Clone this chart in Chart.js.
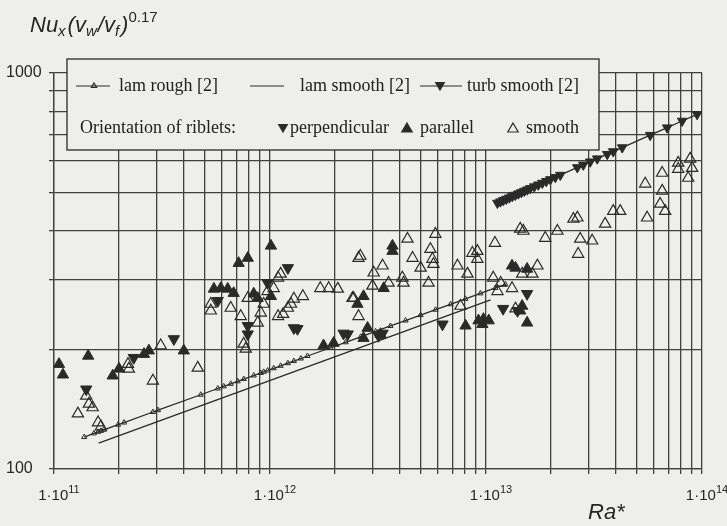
<!DOCTYPE html>
<html>
<head>
<meta charset="utf-8">
<script src="https://cdn.jsdelivr.net/npm/chart.js@4.4.0/dist/chart.umd.min.js"></script>
<style>
  html, body { margin: 0; padding: 0; background: #eeeeec; }
  #c { display: block; }
</style>
</head>
<body>
<canvas id="c" width="727" height="526"></canvas>
<script>
// axis ticks / labels
const decades = [1e11, 1e12, 1e13];
const mantissas = [1, 2, 3, 4, 5, 6, 7, 8, 9];
const xLabelValues = [1e11, 1e12, 1e13, 1e14];
const xLabelExp = ['11', '12', '13', '14'];
const yGrid = [100, 200, 300, 400, 500, 600, 700, 800, 900, 1000];
const yLabelValues = [100, 1000];

// lam rough [2] (line with small open triangles)
const lamRoughRa = [1.38e11, 1.53e11, 1.60e11, 1.65e11, 1.70e11, 1.98e11, 2.11e11, 2.87e11, 3.03e11, 4.78e11,
  5.73e11, 6.11e11, 6.58e11, 7.09e11, 7.56e11, 8.41e11, 9.06e11, 9.35e11, 9.76e11, 1.04e12,
  1.12e12, 1.21e12, 1.29e12, 1.39e12, 1.49e12, 1.91e12, 2.24e12, 2.63e12, 3.08e12, 3.61e12,
  4.24e12, 4.98e12, 5.84e12, 6.85e12, 8.03e12, 9.42e12, 1.105e13, 1.23e13];
const lamRoughNu = [120.4, 123.0, 124.1, 124.8, 125.6, 129.4, 131.0, 139.3, 140.8, 154.0,
  159.7, 161.7, 164.1, 166.5, 168.7, 172.2, 174.8, 175.9, 177.3, 179.6,
  182.2, 185.0, 187.3, 190.1, 192.9, 202.4, 208.9, 215.7, 222.6, 229.7,
  237.1, 244.7, 252.5, 260.6, 268.9, 277.6, 286.5, 292.5];

// lam smooth [2] (plain line)
const lamSmoothRa = [1.61e11, 1.05e13];
const lamSmoothNu = [116.3, 267.2];

// turb smooth [2] (line with filled down triangles)
const turbRa = [1.129e13, 1.166e13, 1.203e13, 1.242e13, 1.283e13, 1.324e13, 1.367e13, 1.412e13, 1.458e13, 1.505e13,
  1.554e13, 1.604e13, 1.674e13, 1.747e13, 1.823e13, 1.902e13, 1.985e13, 2.093e13, 2.208e13, 2.647e13,
  2.820e13, 3.038e13, 3.273e13, 3.641e13, 3.881e13, 4.272e13, 5.756e13, 6.898e13, 8.091e13, 9.493e13];
const turbNu = [469.6, 473.3, 476.9, 480.6, 484.4, 488.1, 491.9, 495.7, 499.5, 503.4,
  507.3, 511.3, 516.5, 522.0, 527.4, 532.8, 538.4, 545.3, 552.4, 577.4,
  586.2, 596.9, 607.8, 623.6, 633.4, 648.3, 696.6, 727.8, 756.6, 786.3];

// riblets: parallel (filled up triangles)
const parRa = [1.01e12, 7.89e11, 7.16e11, 5.50e11, 5.92e11, 6.37e11, 6.79e11, 8.41e11, 8.77e11, 1.01e12,
  2.54e12, 2.83e12, 1.055e11, 1.10e11, 1.44e11, 1.87e11, 2.0e11, 2.61e11, 2.75e11, 3.99e11,
  2.71e12, 1.77e12, 1.97e12, 3.69e12, 3.69e12, 3.36e12, 2.71e12, 1.32e13, 1.37e13, 1.55e13,
  1.47e13, 1.44e13, 1.55e13, 9.73e12, 9.23e12, 1.03e13, 8.04e12, 3.25e12, 9.62e12];
const parNu = [366, 341, 331, 285, 286, 285, 278, 277, 270, 273,
  261, 227, 184, 173, 193, 172, 179, 195, 199, 199,
  214, 205, 208, 366, 355, 286, 273, 326, 322, 320,
  258, 251, 234, 239, 237, 237, 230, 219, 232];

// riblets: perpendicular (filled down triangles)
const perpRa = [1.21e12, 9.75e11, 5.73e11, 7.89e11, 7.89e11, 1.29e12, 1.34e12, 1.41e11, 2.34e11, 3.59e11,
  2.19e12, 2.29e12, 1.55e13, 1.20e13, 1.40e13, 6.29e12, 3.18e12, 3.32e12];
const perpNu = [322, 295, 266, 230, 219, 227, 226, 159, 191, 213,
  220, 219, 277, 254, 251, 232, 217, 220];

// riblets: smooth (open triangles)
const smoothRa = [1.12e12, 1.09e12, 1.42e12, 1.29e12, 1.25e12, 1.21e12, 1.15e12, 1.09e12, 1.71e12, 1.87e12,
  2.06e12, 2.57e12, 2.41e12, 2.57e12, 5.32e11, 5.32e11, 6.58e11, 7.32e11, 9.35e11, 9.06e11,
  8.77e11, 7.89e11, 9.75e11, 1.04e12,
  1.41e11, 1.45e11, 1.51e11, 1.29e11, 1.60e11, 1.65e11, 2.20e11, 2.22e11, 2.87e11, 3.12e11,
  4.63e11, 7.55e11, 7.72e11,
  2.62e12, 3.32e12, 3.02e12, 2.98e12, 4.33e12, 4.57e12, 4.10e12, 4.15e12, 3.54e12, 4.98e12,
  5.53e12, 5.83e12, 5.65e12, 5.71e12, 5.42e12, 7.38e12, 8.21e12, 8.65e12, 9.12e12, 9.12e12,
  1.10e13, 1.44e13, 1.49e13, 1.88e13, 2.14e13, 2.54e13, 2.65e13, 2.73e13, 3.10e13, 2.67e13,
  3.56e13, 3.88e13, 4.18e13, 5.57e13, 6.40e13, 6.75e13, 5.46e13, 6.54e13, 6.54e13, 7.76e13,
  7.76e13, 8.81e13, 9.00e13, 8.63e13, 1.73e13, 1.64e13, 1.47e13, 1.17e13, 1.32e13, 1.08e13,
  1.13e13, 2.44e12, 7.62e12, 1.37e13];
const smoothNu = [311, 304, 273, 269, 261, 255, 246, 243, 286, 286,
  285, 341, 270, 243, 261, 251, 255, 243, 261, 248,
  234, 270, 281, 286,
  153, 146, 143, 138, 131, 128, 184, 179, 167, 205,
  180, 207, 201,
  345, 326, 313, 290, 381, 341, 304, 295, 295, 322,
  359, 392, 339, 329, 295, 326, 311, 351, 355, 339,
  372, 404, 399, 383, 399, 428, 431, 381, 377, 349,
  416, 448, 448, 431, 467, 448, 525, 504, 559, 593,
  572, 607, 575, 543, 326, 311, 311, 295, 286, 304,
  281, 270, 258, 254];

const ink = '#2a2a2a';
const gridInk = '#404040';
const paper = '#eeeeec';

function pts(xs, ys) { return xs.map((x, i) => ({x: x, y: ys[i]})); }

const xGrid = [];
decades.forEach(d => mantissas.forEach(m => xGrid.push(m * d)));
xGrid.push(1e14);

function tri(ctx, x, y, r, down, filled) {
  const s = down ? -1 : 1;
  ctx.beginPath();
  ctx.moveTo(x, y - s * r);
  ctx.lineTo(x + r * 0.866, y + s * r / 2);
  ctx.lineTo(x - r * 0.866, y + s * r / 2);
  ctx.closePath();
  if (filled) { ctx.fillStyle = ink; ctx.fill(); }
  ctx.strokeStyle = ink;
  ctx.lineWidth = 1.2;
  ctx.stroke();
}

function runs(ctx, x, y, parts) {
  parts.forEach(p => {
    ctx.font = p.font;
    ctx.fillText(p.t, x, y + (p.dy || 0));
    x += ctx.measureText(p.t).width + (p.gap || 0);
  });
}

const paperPlugin = {
  id: 'paper',
  beforeDraw(chart) {
    const ctx = chart.ctx;
    ctx.save();
    ctx.fillStyle = paper;
    ctx.fillRect(0, 0, chart.width, chart.height);
    ctx.restore();
  }
};

const textPlugin = {
  id: 'texts',
  afterDraw(chart) {
    const ctx = chart.ctx;
    const xs = chart.scales.x, ys = chart.scales.y;
    ctx.save();
    ctx.fillStyle = '#262626';

    // y tick labels
    ctx.font = '16px "Liberation Sans", Arial, sans-serif';
    ctx.textAlign = 'left';
    ctx.textBaseline = 'middle';
    yLabelValues.forEach(v => {
      ctx.fillText(String(v), 6, ys.getPixelForValue(v));
    });

    // x tick labels 1·10^n
    ctx.textBaseline = 'alphabetic';
    xLabelValues.forEach((v, i) => {
      const base = '1\u00b710';
      ctx.font = '15px "Liberation Sans", Arial, sans-serif';
      const wb = ctx.measureText(base).width;
      ctx.font = '11px "Liberation Sans", Arial, sans-serif';
      const we = ctx.measureText(xLabelExp[i]).width;
      const cx = xs.getPixelForValue(v) + 5;
      const x0 = cx - (wb + we) / 2;
      runs(ctx, x0, 500, [
        {t: base, font: '15px "Liberation Sans", Arial, sans-serif'},
        {t: xLabelExp[i], font: '11px "Liberation Sans", Arial, sans-serif', dy: -7}
      ]);
    });

    // axis titles
    const it = 'italic 22px "Liberation Sans", Arial, sans-serif';
    const sub = 'italic 15px "Liberation Sans", Arial, sans-serif';
    runs(ctx, 30, 32, [
      {t: 'Nu', font: it},
      {t: 'x', font: sub, dy: 4, gap: 2},
      {t: '(v', font: it},
      {t: 'w', font: sub, dy: 4, gap: 1},
      {t: '/v', font: it},
      {t: 'f', font: sub, dy: 4, gap: 2},
      {t: ')', font: it},
      {t: '0.17', font: '15px "Liberation Sans", Arial, sans-serif', dy: -10}
    ]);
    ctx.font = it;
    ctx.fillText('Ra*', 588, 519);

    // legend box
    const L = 67, T = 59, R = 599, B = 150;
    ctx.fillStyle = paper;
    ctx.fillRect(L, T, R - L, B - T);
    ctx.strokeStyle = ink;
    ctx.lineWidth = 1.3;
    ctx.strokeRect(L, T, R - L, B - T);

    const r1 = 86, r2 = 128;
    ctx.lineWidth = 1.2;
    ctx.strokeStyle = ink;
    ctx.beginPath();
    ctx.moveTo(76, r1); ctx.lineTo(110, r1);
    ctx.moveTo(250, r1); ctx.lineTo(284, r1);
    ctx.moveTo(420, r1); ctx.lineTo(462, r1);
    ctx.stroke();
    tri(ctx, 94, r1, 3, false, false);
    tri(ctx, 440, r1 - 1, 5, true, true);

    ctx.fillStyle = '#202020';
    ctx.font = '18px "Liberation Serif", "Times New Roman", serif';
    ctx.textBaseline = 'middle';
    ctx.fillText('lam rough [2]', 119, r1);
    ctx.fillText('lam smooth [2]', 300, r1);
    ctx.fillText('turb smooth [2]', 467, r1);
    ctx.fillText('Orientation of riblets:', 80, r2);
    tri(ctx, 283, r2 - 1, 5, true, true);
    ctx.fillStyle = '#202020';
    ctx.fillText('perpendicular', 290, r2);
    tri(ctx, 407, r2 + 1, 6, false, true);
    ctx.fillStyle = '#202020';
    ctx.fillText('parallel', 420, r2);
    tri(ctx, 513, r2 + 1, 6, false, false);
    ctx.fillStyle = '#202020';
    ctx.fillText('smooth', 526, r2);
    ctx.restore();
  }
};

new Chart(document.getElementById('c'), {
  type: 'scatter',
  data: {
    datasets: [
      {label: 'lam smooth [2]', data: pts(lamSmoothRa, lamSmoothNu), showLine: true,
       borderColor: ink, borderWidth: 1.3, pointRadius: 0},
      {label: 'lam rough [2]', data: pts(lamRoughRa, lamRoughNu), showLine: true,
       borderColor: ink, borderWidth: 1.3, pointStyle: 'triangle', pointRadius: 3,
       pointBackgroundColor: 'rgba(0,0,0,0)', pointBorderColor: ink, pointBorderWidth: 1},
      {label: 'smooth', data: pts(smoothRa, smoothNu), pointStyle: 'triangle', pointRadius: 6.5,
       pointBackgroundColor: 'rgba(0,0,0,0)', pointBorderColor: ink, pointBorderWidth: 1.2},
      {label: 'parallel', data: pts(parRa, parNu), pointStyle: 'triangle', pointRadius: 6.5,
       pointBackgroundColor: ink, pointBorderColor: ink, pointBorderWidth: 1},
      {label: 'perpendicular', data: pts(perpRa, perpNu), pointStyle: 'triangle', pointRotation: 180,
       pointRadius: 6.5, pointBackgroundColor: ink, pointBorderColor: ink, pointBorderWidth: 1},
      {label: 'turb smooth [2]', data: pts(turbRa, turbNu), showLine: true,
       borderColor: ink, borderWidth: 1.3, pointStyle: 'triangle', pointRotation: 180, pointRadius: 5.5,
       pointBackgroundColor: ink, pointBorderColor: ink, pointBorderWidth: 1}
    ]
  },
  options: {
    responsive: false,
    animation: false,
    events: [],
    layout: {padding: {left: 0, right: 25, top: 73, bottom: 0}},
    plugins: {legend: {display: false}, tooltip: {enabled: false}},
    scales: {
      x: {
        type: 'logarithmic', min: 1e11, max: 1e14,
        afterBuildTicks: s => { s.ticks = xGrid.map(v => ({value: v})); },
        afterFit: s => { s.height = 57; },
        ticks: {display: false},
        grid: {color: gridInk, lineWidth: 1.3, drawTicks: true, tickLength: 5},
        border: {color: gridInk, width: 1.3}
      },
      y: {
        type: 'logarithmic', min: 100, max: 1000,
        afterBuildTicks: s => { s.ticks = yGrid.map(v => ({value: v})); },
        afterFit: s => { s.width = 54; },
        ticks: {display: false},
        grid: {color: gridInk, lineWidth: 1.3, drawTicks: true, tickLength: 5},
        border: {color: gridInk, width: 1.3}
      }
    }
  },
  plugins: [paperPlugin, textPlugin]
});
</script>
</body>
</html>
